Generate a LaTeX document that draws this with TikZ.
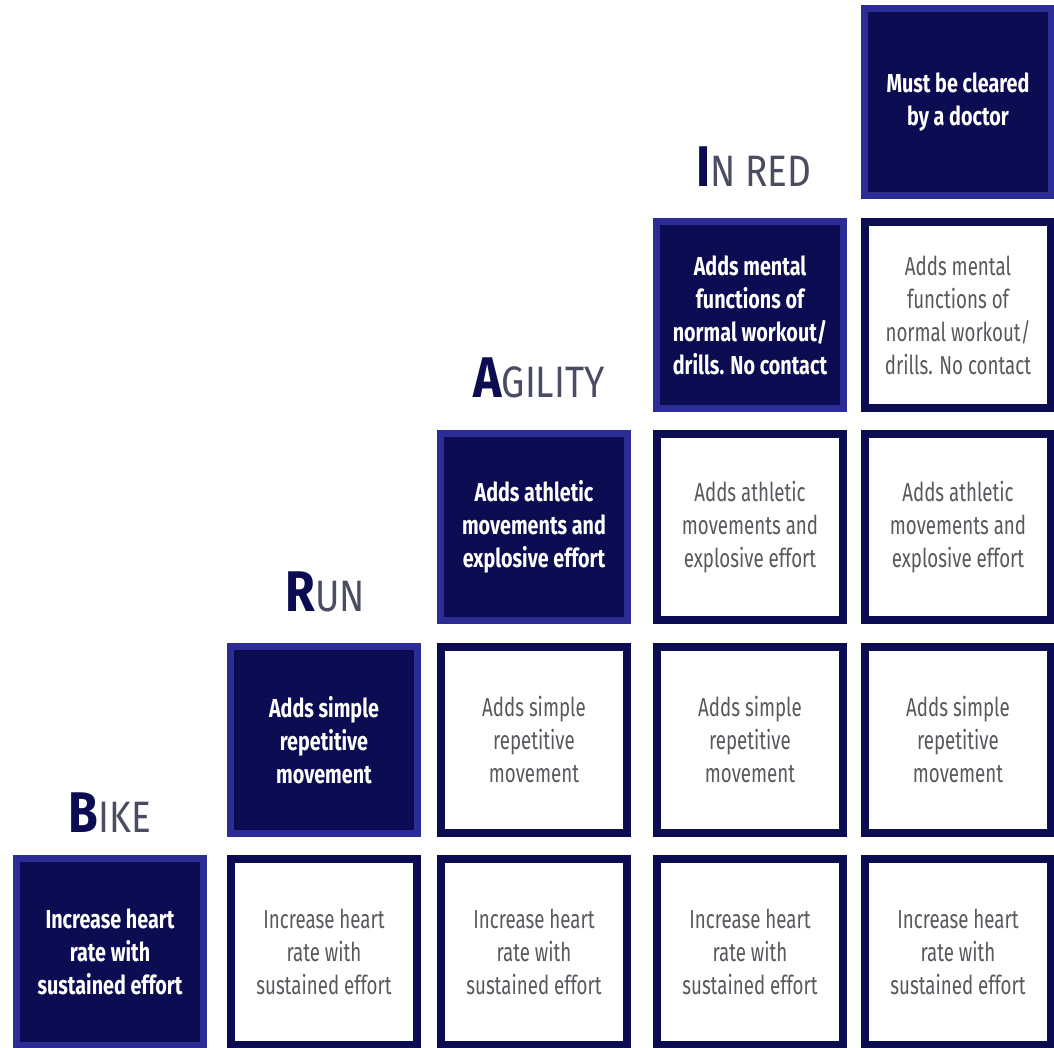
\documentclass[tikz,border=0pt]{standalone}
\usepackage{fontspec}
\setmainfont[FakeStretch=0.72,BoldFeatures={FakeStretch=0.76}]{Fira Sans}
\newfontfamily\headfont[FakeStretch=0.84,BoldFeatures={FakeStretch=0.84}]{Fira Sans}
\usepackage{tikz}

\definecolor{navy}{RGB}{12,12,82}
\definecolor{edgeblue}{RGB}{44,44,150}
\definecolor{boxgray}{RGB}{88,88,94}
\definecolor{headgray}{RGB}{74,76,98}

\begin{document}
\begin{tikzpicture}[x=0.75pt,y=0.75pt,yscale=-1,xscale=1,
  filledbox/.style={draw=edgeblue,fill=navy,line width=5.25pt,minimum width=140pt,minimum height=140pt,
    inner sep=0pt,align=center,text=white,font=\fontsize{19.5}{24.75}\selectfont\bfseries},
  plainbox/.style={draw=navy,fill=white,line width=6pt,minimum width=140pt,minimum height=140pt,
    inner sep=0pt,align=center,text=boxgray,font=\fontsize{19.5}{24.75}\selectfont},
  heading/.style={anchor=base,inner sep=0.75pt,font=\headfont}]
%set diagram size
\useasboundingbox (0,0) rectangle (1054,1048);

%Shape: Square [id:bike row]
\node [filledbox] (bike1) at (110,952) {Increase heart\\rate with\\sustained effort};
\node [plainbox] (bike2) at (324,952) {Increase heart\\rate with\\sustained effort};
\node [plainbox] (bike3) at (534,952) {Increase heart\\rate with\\sustained effort};
\node [plainbox] (bike4) at (750,952) {Increase heart\\rate with\\sustained effort};
\node [plainbox] (bike5) at (958,952) {Increase heart\\rate with\\sustained effort};
%Shape: Square [id:run row]
\node [filledbox] (run2) at (324,740) {Adds simple\\repetitive\\movement};
\node [plainbox] (run3) at (534,740) {Adds simple\\repetitive\\movement};
\node [plainbox] (run4) at (750,740) {Adds simple\\repetitive\\movement};
\node [plainbox] (run5) at (958,740) {Adds simple\\repetitive\\movement};
%Shape: Square [id:agility row]
\node [filledbox] (agility3) at (534,527) {Adds athletic\\movements and\\explosive effort};
\node [plainbox] (agility4) at (750,527) {Adds athletic\\movements and\\explosive effort};
\node [plainbox] (agility5) at (958,527) {Adds athletic\\movements and\\explosive effort};
%Shape: Square [id:in red row]
\node [filledbox] (inred4) at (750,315) {Adds mental\\functions of\\normal workout/\\drills. No contact};
\node [plainbox] (inred5) at (958,315) {Adds mental\\functions of\\normal workout/\\drills. No contact};
%Shape: Square [id:doctor]
\node [filledbox] (doctor5) at (958,102) {Must be cleared\\by a doctor};

% Text Node
\node [heading] (bikehead) at (110,832) {{\fontsize{43}{43}\selectfont\bfseries\color{navy}B}{\fontsize{33}{33}\selectfont\color{headgray}IKE}};
% Text Node
\node [heading] (runhead) at (325,612) {{\fontsize{43}{43}\selectfont\bfseries\color{navy}R}{\fontsize{33}{33}\selectfont\color{headgray}UN}};
% Text Node
\node [heading] (agilityhead) at (539,398) {{\fontsize{43}{43}\selectfont\bfseries\color{navy}A}{\fontsize{33}{33}\selectfont\color{headgray}GILITY}};
% Text Node
\node [heading] (inredhead) at (754,187) {{\fontsize{43}{43}\selectfont\bfseries\color{navy}I}{\fontsize{33}{33}\selectfont\color{headgray}N RED}};

\end{tikzpicture}
\end{document}
